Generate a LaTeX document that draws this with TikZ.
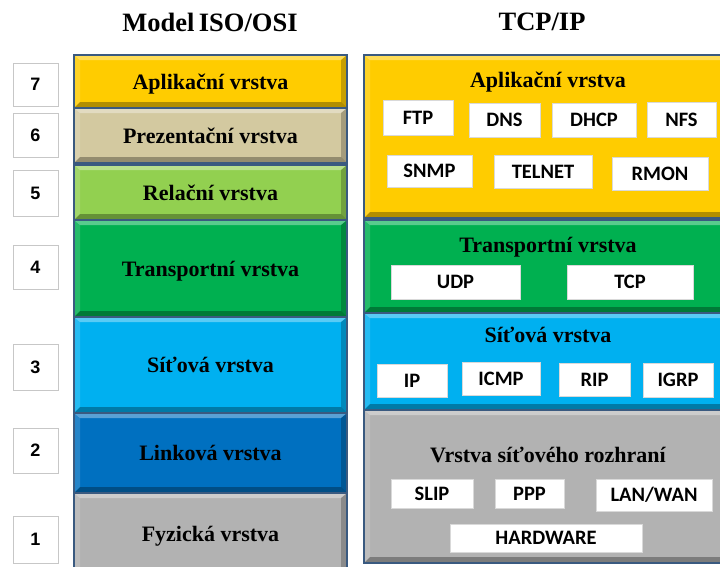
\documentclass[tikz,border=0pt]{standalone}
\usepackage{fontspec}
\setmainfont{Liberation Serif}
\newfontfamily\protofont{Carlito}
\newfontfamily\numfont{Liberation Sans}
\definecolor{cyel}{HTML}{FFCC00}
\definecolor{cbeige}{HTML}{D3C9A0}
\definecolor{clgreen}{HTML}{92D050}
\definecolor{cgreen}{HTML}{00B050}
\definecolor{ccyan}{HTML}{00B0F0}
\definecolor{cblue}{HTML}{0070C0}
\definecolor{cgray}{HTML}{B2B2B2}
\definecolor{cborder}{HTML}{3A5A80}
\tikzset{
  bevelbox/.style={draw=cborder, line width=2.5pt, inner sep=0pt, text depth=0pt,
    font=\fontsize{22}{26}\selectfont\bfseries,
    path picture={
      \fill[white,opacity=.35] (path picture bounding box.north west) -- (path picture bounding box.north east)
        -- ([shift={(-6pt,-5pt)}]path picture bounding box.north east) -- ([shift={(6pt,-5pt)}]path picture bounding box.north west) -- cycle;
      \fill[white,opacity=.15] (path picture bounding box.north west) -- ([shift={(6pt,-5pt)}]path picture bounding box.north west)
        -- ([shift={(6pt,6pt)}]path picture bounding box.south west) -- (path picture bounding box.south west) -- cycle;
      \fill[black,opacity=.3] (path picture bounding box.south west) -- (path picture bounding box.south east)
        -- ([shift={(-6pt,6pt)}]path picture bounding box.south east) -- ([shift={(6pt,6pt)}]path picture bounding box.south west) -- cycle;
      \fill[black,opacity=.22] (path picture bounding box.north east) -- ([shift={(-6pt,-5pt)}]path picture bounding box.north east)
        -- ([shift={(-6pt,6pt)}]path picture bounding box.south east) -- (path picture bounding box.south east) -- cycle;
    }},
  osi/.style={bevelbox, minimum width=273pt},
  tcp/.style={bevelbox, minimum width=366pt},
  numbox/.style={draw=black!22, line width=1pt, fill=white, inner sep=0pt, minimum width=45pt,
    font=\numfont\fontsize{18}{21}\selectfont\bfseries},
  proto/.style={draw=black!15, line width=0.8pt, fill=white, inner sep=0pt,
    font=\protofont\fontsize{20.5}{24}\selectfont\bfseries},
  ltitle/.style={font=\fontsize{22}{26}\selectfont\bfseries, inner sep=0pt, text depth=0pt},
  mtitle/.style={font=\fontsize{26.5}{30}\selectfont\bfseries, inner sep=0pt}
}
\begin{document}
\begin{tikzpicture}[x=1pt,y=-1pt]
\clip (0,0) rectangle (720,566);
\fill[white] (0,0) rectangle (720,566);
% titles
\node[mtitle] (tosi) at (210,22) {Model\,ISO/OSI};
\node[mtitle] (ttcp) at (542,22) {TCP/IP};
% OSI layers
\node[osi, fill=cgray, minimum height=82pt] (o1) at (210.5,534) {Fyzická vrstva};
\node[osi, fill=cblue, minimum height=80pt] (o2) at (210.5,453) {Linková vrstva};
\node[osi, fill=ccyan, minimum height=96pt] (o3) at (210.5,365) {Síťová vrstva};
\node[osi, fill=cgreen, minimum height=97pt] (o4) at (210.5,268.5) {Transportní vrstva};
\node[osi, fill=clgreen, minimum height=55pt] (o5) at (210.5,192.5) {Relační vrstva};
\node[osi, fill=cbeige, minimum height=55pt] (o6) at (210.5,135.5) {Prezentační vrstva};
\node[osi, fill=cyel, minimum height=53pt] (o7) at (210.5,81.5) {Aplikační vrstva};
% numbers
\node[numbox, minimum height=43pt] (n7) at (35.5,84.5) {7};
\node[numbox, minimum height=44pt] (n6) at (35.5,135) {6};
\node[numbox, minimum height=46pt] (n5) at (35.5,193) {5};
\node[numbox, minimum height=44pt] (n4) at (35.5,267) {4};
\node[numbox, minimum height=46pt] (n3) at (35.5,367) {3};
\node[numbox, minimum height=45pt] (n2) at (35.5,450.5) {2};
\node[numbox, minimum height=47pt] (n1) at (35.5,539.5) {1};
% TCP/IP layers
\node[tcp, fill=cgray, minimum height=153pt] (tnet) at (547,486.5) {};
\node[tcp, fill=ccyan, minimum height=97pt] (tip) at (547,361.5) {};
\node[tcp, fill=cgreen, minimum height=93pt] (ttr) at (547,266.5) {};
\node[tcp, fill=cyel, minimum height=163pt] (tapp) at (547,136.5) {};
\node[ltitle] (tapplbl) at (548,80) {Aplikační vrstva};
\node[ltitle] (ttrlbl) at (548,245) {Transportní vrstva};
\node[ltitle] (tiplbl) at (548,335) {Síťová vrstva};
\node[ltitle] (tnetlbl) at (548,455) {Vrstva síťového rozhraní};
% protocols
\node[proto, minimum width=70pt, minimum height=35pt] (ftp) at (418,117.5) {FTP};
\node[proto, minimum width=71pt, minimum height=34pt] (dns) at (504.5,120) {DNS};
\node[proto, minimum width=84pt, minimum height=34pt] (dhcp) at (594,120) {DHCP};
\node[proto, minimum width=69pt, minimum height=35pt] (nfs) at (681.5,119.5) {NFS};
\node[proto, minimum width=85pt, minimum height=32pt] (snmp) at (429.5,171) {SNMP};
\node[proto, minimum width=98pt, minimum height=33pt] (telnet) at (543,171.5) {TELNET};
\node[proto, minimum width=96pt, minimum height=33pt] (rmon) at (660,173.5) {RMON};
\node[proto, minimum width=129pt, minimum height=34pt] (udp) at (455.5,282) {UDP};
\node[proto, minimum width=126pt, minimum height=34pt] (tcpp) at (630,282) {TCP};
\node[proto, minimum width=70pt, minimum height=33pt] (ipp) at (412,380.5) {IP};
\node[proto, minimum width=78pt, minimum height=33pt] (icmp) at (501,378.5) {ICMP};
\node[proto, minimum width=71pt, minimum height=33pt] (rip) at (594.5,379.5) {RIP};
\node[proto, minimum width=70pt, minimum height=34pt] (igrp) at (678,380) {IGRP};
\node[proto, minimum width=82pt, minimum height=29pt] (slip) at (432,493.5) {SLIP};
\node[proto, minimum width=69pt, minimum height=29pt] (ppp) at (529.5,493.5) {PPP};
\node[proto, minimum width=116pt, minimum height=32pt] (lan) at (654,495) {LAN/WAN};
\node[proto, minimum width=192pt, minimum height=28pt] (hw) at (546,538) {HARDWARE};
\end{tikzpicture}
\end{document}
